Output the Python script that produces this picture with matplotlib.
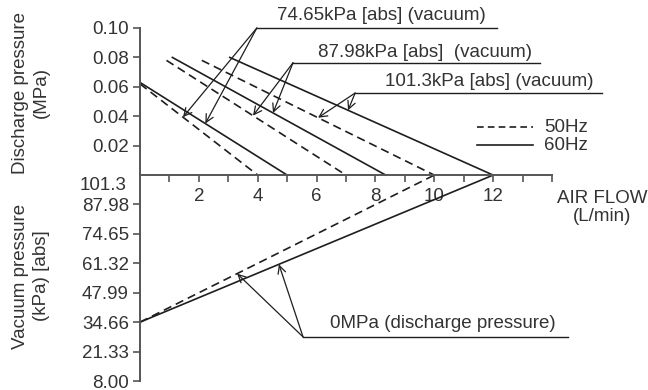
import numpy as np
import matplotlib
matplotlib.use("Agg")
import matplotlib.pyplot as plt

plt.rcParams["font.family"] = ["Liberation Sans", "DejaVu Sans"]

# discharge pressure (MPa) vs air flow (L/min), per vacuum level
flow_74_50 = [0.0, 4.0]
dis_74_50 = [0.062, 0.0]
flow_74_60 = [0.0, 5.0]
dis_74_60 = [0.063, 0.0]
flow_88_50 = [0.9, 7.0]
dis_88_50 = [0.078, 0.0]
flow_88_60 = [1.1, 8.35]
dis_88_60 = [0.080, 0.0]
flow_101_50 = [2.1, 10.0]
dis_101_50 = [0.078, 0.0]
flow_101_60 = [3.05, 12.0]
dis_101_60 = [0.080, 0.0]

# vacuum pressure (kPa abs) vs air flow at 0 MPa discharge
flow_0_50 = [0.0, 10.0]
vac_0_50 = [34.66, 101.3]
flow_0_60 = [0.0, 12.0]
vac_0_60 = [34.66, 101.3]

dis_ticks = [0.02, 0.04, 0.06, 0.08, 0.10]
vac_ticks = [87.98, 74.65, 61.32, 47.99, 34.66, 21.33, 8.00]
VAC_TOP = 101.3
VAC_STEP = 13.33


def vac_to_y(v):
    # lower half shares the axis: one vacuum step = one 0.02 MPa step
    return (np.asarray(v) - VAC_TOP) / VAC_STEP * 0.02


ink = "#1e1e1e"
axc = "#555555"
txt = "#333333"
fs = 13.5

fig = plt.figure(figsize=(6.48, 3.9), dpi=100)
ax = fig.add_axes([140 / 648, 9 / 390, 412 / 648, 353 / 390])
ax.set_xlim(0, 14)
ax.set_ylim(vac_to_y(8.00), 0.10)

lw = 1.2
dash = (0, (5, 3))
ax.plot(flow_74_50, dis_74_50, ls=dash, color=ink, lw=lw)
ax.plot(flow_74_60, dis_74_60, color=ink, lw=lw)
ax.plot(flow_88_50, dis_88_50, ls=dash, color=ink, lw=lw)
ax.plot(flow_88_60, dis_88_60, color=ink, lw=lw)
ax.plot(flow_101_50, dis_101_50, ls=dash, color=ink, lw=lw)
ax.plot(flow_101_60, dis_101_60, color=ink, lw=lw)
ax.plot(flow_0_50, vac_to_y(vac_0_50), ls=dash, color=ink, lw=lw)
ax.plot(flow_0_60, vac_to_y(vac_0_60), color=ink, lw=lw)

# axes: vertical spine on left, flow axis at 0 MPa
for s in ["top", "right"]:
    ax.spines[s].set_visible(False)
ax.spines["bottom"].set_position(("data", 0))
ax.spines["bottom"].set_bounds(0, 14)
ax.spines["left"].set_bounds(vac_to_y(8.00), 0.10)
for s in ["bottom", "left"]:
    ax.spines[s].set_color(axc)
    ax.spines[s].set_linewidth(1.4)

xt = np.arange(1, 15)
ax.set_xticks(xt)
ax.set_xticklabels([str(v) if v % 2 == 0 and v < 14 else "" for v in xt])
yt = list(dis_ticks) + list(vac_to_y(vac_ticks))
ax.set_yticks(yt)
ax.set_yticklabels([f"{v:.2f}" for v in dis_ticks] + [f"{v:.2f}" for v in vac_ticks])
ax.tick_params(axis="both", direction="out", length=5, width=1.2, color=axc,
               labelsize=fs, labelcolor=txt)
ax.tick_params(axis="y", pad=3)
ax.tick_params(axis="x", pad=4)
ax.text(-0.45, -0.0068, "101.3", ha="right", va="center", fontsize=fs, color=txt)

ax.text(15.7, -0.0221, "AIR FLOW\n(L/min)", ha="center", va="center",
        fontsize=fs, color=txt, linespacing=1.12, clip_on=False)

fig.text(31 / 648, 1 - 93 / 390, "Discharge pressure\n(MPa)", rotation=90,
         ha="center", va="center", fontsize=fs, color=txt,
         multialignment="center", linespacing=1.3)
fig.text(31 / 648, 1 - 276 / 390, "Vacuum pressure\n(kPa) [abs]", rotation=90,
         ha="center", va="center", fontsize=fs, color=txt,
         multialignment="center", linespacing=1.3)

# legend
ax.plot([11.45, 13.35], [0.0326, 0.0326], ls=(0, (4, 2.5)), color=ink, lw=lw, clip_on=False)
ax.plot([11.45, 13.35], [0.0204, 0.0204], color=ink, lw=lw, clip_on=False)
ax.text(13.72, 0.0326, "50Hz", va="center", fontsize=fs, color=txt)
ax.text(13.72, 0.0204, "60Hz", va="center", fontsize=fs, color=txt)

arrow = dict(arrowstyle="->", color=ink, lw=0.9, shrinkA=0, shrinkB=0,
             mutation_scale=14)


def callout(label, tx, ty, ly, x0, x1, targets):
    ax.plot([x0, x1], [ly, ly], color=ink, lw=1.0, clip_on=False)
    ax.text(tx, ty, label, ha="center", va="center", fontsize=fs, color=txt,
            clip_on=False)
    for px, py in targets:
        ax.annotate("", xy=(px, py), xytext=(x0, ly), arrowprops=arrow,
                    annotation_clip=False)


def on(fx, fy, x):
    return x, float(np.interp(x, fx, fy))


callout("74.65kPa [abs] (vacuum)", 8.19, 0.1088, 0.100, 3.97, 12.13,
        [on(flow_74_50, dis_74_50, 1.46), on(flow_74_60, dis_74_60, 2.22)])
callout("87.98kPa [abs]  (vacuum)", 9.68, 0.0836, 0.0764, 5.2, 13.59,
        [on(flow_88_50, dis_88_50, 3.84), on(flow_88_60, dis_88_60, 4.52)])
callout("101.3kPa [abs] (vacuum)", 11.88, 0.0639, 0.0558, 7.31, 15.7,
        [on(flow_101_50, dis_101_50, 6.05), on(flow_101_60, dis_101_60, 7.07)])
callout("0MPa (discharge pressure)", 10.3, -0.1006, -0.110, 5.54, 14.54,
        [on(flow_0_50, vac_to_y(vac_0_50), 3.30), on(flow_0_60, vac_to_y(vac_0_60), 4.72)])

fig.savefig("out.png", dpi=100)
